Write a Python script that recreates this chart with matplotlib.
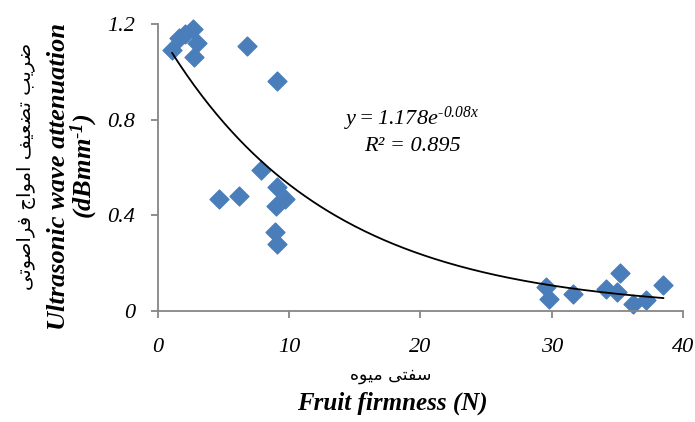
import numpy as np
import matplotlib
matplotlib.use("Agg")
import matplotlib.pyplot as plt

# ---------------- data ----------------
firmness = [1.1, 1.6, 2.1, 2.7, 3.0, 2.8, 6.8, 9.1,
            7.9, 9.1, 9.7, 9.0, 4.7, 6.2, 8.9, 9.1,
            29.6, 29.8, 31.6, 34.1, 35.0, 35.2, 36.2, 37.2, 38.5]
attenuation = [1.09, 1.14, 1.16, 1.18, 1.12, 1.06, 1.11, 0.96,
               0.59, 0.52, 0.47, 0.44, 0.47, 0.48, 0.33, 0.28,
               0.10, 0.05, 0.07, 0.09, 0.08, 0.16, 0.03, 0.045, 0.11]
fit_a = 1.178
fit_b = -0.08
r_squared = 0.895
x_ticks = [0, 10, 20, 30, 40]
y_ticks = [0, 0.4, 0.8, 1.2]
y_tick_labels = ["0", "0.4", "0.8", "1.2"]
ylabel_fa = "ضریب تضعیف امواج فراصوتی"
ylabel_en = "Ultrasonic wave attenuation"
ylabel_unit = r"$\mathbf{(dBmm^{\text{-}1})}$"
xlabel_fa = "سفتی میوه"
xlabel_en = "Fruit firmness (N)"

# ------------- simple Persian shaping (presentation forms, visual order) -------------
FORMS = {
    "ا": (0xFE8D, 0xFE8E, None, None),
    "ب": (0xFE8F, 0xFE90, 0xFE91, 0xFE92),
    "ت": (0xFE95, 0xFE96, 0xFE97, 0xFE98),
    "ج": (0xFE9D, 0xFE9E, 0xFE9F, 0xFEA0),
    "ر": (0xFEAD, 0xFEAE, None, None),
    "س": (0xFEB1, 0xFEB2, 0xFEB3, 0xFEB4),
    "ص": (0xFEB9, 0xFEBA, 0xFEBB, 0xFEBC),
    "ض": (0xFEBD, 0xFEBE, 0xFEBF, 0xFEC0),
    "ع": (0xFEC9, 0xFECA, 0xFECB, 0xFECC),
    "ف": (0xFED1, 0xFED2, 0xFED3, 0xFED4),
    "م": (0xFEE1, 0xFEE2, 0xFEE3, 0xFEE4),
    "ه": (0xFEE9, 0xFEEA, 0xFEEB, 0xFEEC),
    "و": (0xFEED, 0xFEEE, None, None),
    "ی": (0xFBFC, 0xFBFD, 0xFBFE, 0xFBFF),
}


def shape(text):
    out = []
    n = len(text)
    for i, c in enumerate(text):
        if c not in FORMS:
            out.append(c)
            continue
        prev = text[i - 1] if i > 0 else None
        nxt = text[i + 1] if i < n - 1 else None
        jp = prev in FORMS and FORMS[prev][2] is not None
        jn = FORMS[c][2] is not None and nxt in FORMS
        f = FORMS[c]
        if jp and jn:
            cp = f[3]
        elif jp:
            cp = f[1]
        elif jn:
            cp = f[2]
        else:
            cp = f[0]
        out.append(chr(cp))
    return "".join(reversed(out))


# ---------------- style ----------------
plt.rcParams["mathtext.fontset"] = "custom"
plt.rcParams["mathtext.rm"] = "Liberation Serif:italic"
plt.rcParams["mathtext.it"] = "Liberation Serif:italic"
plt.rcParams["mathtext.bf"] = "Liberation Serif:italic:bold"

W, H = 695, 422
fig = plt.figure(figsize=(W / 100, H / 100), dpi=100)
ax = fig.add_axes([157.7 / W, 1 - 311 / H, (683 - 157.7) / W, (311 - 24) / H])

marker_color = "#4a7ebb"
grey = "#868686"

ax.scatter(firmness, attenuation, marker="D", s=92, color=marker_color,
           edgecolors=marker_color, linewidths=1.0, joinstyle="round",
           zorder=2, clip_on=False)

xf = np.linspace(min(firmness), max(firmness), 200)
ax.plot(xf, fit_a * np.exp(fit_b * xf), color="black", lw=1.3, zorder=3)

ax.set_xlim(0, 40)
ax.set_ylim(0, 1.2)
ax.set_xticks(x_ticks)
ax.set_yticks(y_ticks)
ax.set_yticklabels(y_tick_labels)
for s in ["top", "right"]:
    ax.spines[s].set_visible(False)
for s in ["left", "bottom"]:
    ax.spines[s].set_color(grey)
    ax.spines[s].set_linewidth(1.3)
ax.tick_params(axis="both", direction="out", length=5, width=1.3, color=grey)
ax.tick_params(axis="x", pad=14.5)
ax.tick_params(axis="y", pad=11)
for lab in ax.get_xticklabels() + ax.get_yticklabels():
    lab.set_family("Liberation Serif")
    lab.set_style("italic")
    lab.set_fontsize(16)

# equation
fig.text(412 / W, 1 - 125 / H, r"$y = 1.178e^{\text{-}0.08x}$",
         fontsize=16, ha="center", va="baseline")
fig.text(412 / W, 1 - 151 / H, "R² = {:.3f}".format(r_squared),
         fontsize=16, ha="center", va="baseline", family="Liberation Serif",
         style="italic")

# y labels
fig.text(27 / W, 1 - 166 / H, shape(ylabel_fa), rotation=90, ha="center",
         va="center", fontsize=14, family=["DejaVu Sans"])
fig.text(59 / W, 1 - 176 / H, ylabel_en, rotation=90, ha="center", va="center",
         fontsize=19, family="Liberation Serif", style="italic", weight="bold")
fig.text(84 / W, 1 - 166 / H, ylabel_unit, rotation=90, ha="center", va="center",
         fontsize=19)

# x labels
fig.text(391 / W, 1 - 375 / H, shape(xlabel_fa), ha="center", va="center",
         fontsize=12.5, family=["DejaVu Sans"])
fig.text(392 / W, 1 - 403 / H, xlabel_en, ha="center", va="center",
         fontsize=18, family="Liberation Serif", style="italic", weight="bold")

fig.savefig("out.png", dpi=100)
